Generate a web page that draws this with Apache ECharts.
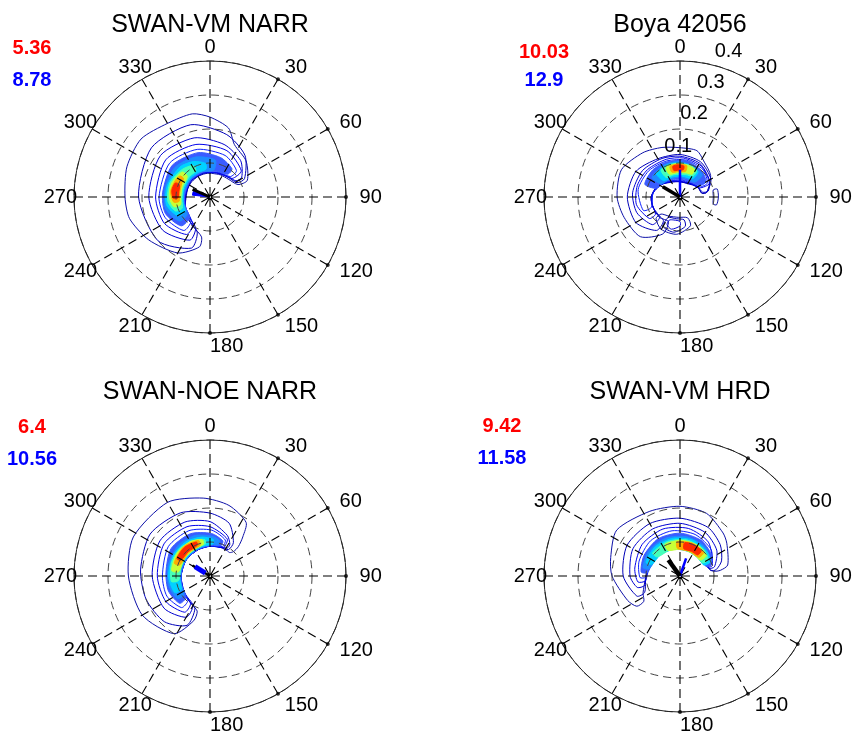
<!DOCTYPE html>
<html>
<head>
<meta charset="utf-8">
<script src="https://cdn.jsdelivr.net/npm/echarts@6/dist/echarts.min.js"></script>
<style>
  html, body { margin: 0; padding: 0; background: #ffffff; }
  #chart { width: 853px; height: 732px; }
</style>
</head>
<body>
<div id="chart"></div>
<script>
// ---- data -------------------------------------------------------------
const panelTitles = ['SWAN-VM NARR', 'Boya 42056', 'SWAN-NOE NARR', 'SWAN-VM HRD'];
const redValues = ['5.36', '10.03', '6.4', '9.42'];
const blueValues = ['8.78', '12.9', '10.56', '11.58'];
const directionTicks = [0, 30, 60, 90, 120, 150, 180, 210, 240, 270, 300, 330];
const frequencyTicks = [0.1, 0.2, 0.3, 0.4];

// vectors drawn from the centre: [length (Hz), direction (deg)]
const blackVectors = [[0.056, 294], [0.059, 301], [0.060, 301], [0.058, 324]];
const blueVectors = [[0.052, 282], [0.080, 0], [0.052, 302], [0.055, 19]];

// contour levels: [levelIndex, [[direction, innerFreq, outerFreq], ...]]
const contoursVmNarr = [
  [0, [[192,0.12,0.15],[210,0.10,0.19],[235,0.085,0.22],[255,0.075,0.245],[270,0.07,0.25],[290,0.07,0.26],[310,0.07,0.265],[330,0.07,0.25],[348,0.07,0.25],[360,0.07,0.235],[375,0.07,0.21],[385,0.072,0.17],[405,0.075,0.15],[426,0.09,0.12]]],
  [1, [[200,0.11,0.16],[230,0.09,0.20],[270,0.072,0.21],[310,0.072,0.225],[345,0.072,0.22],[375,0.073,0.19],[400,0.078,0.16],[422,0.09,0.115]]],
  [2, [[205,0.10,0.14],[235,0.085,0.17],[270,0.073,0.18],[310,0.073,0.19],[345,0.073,0.18],[375,0.074,0.16],[400,0.08,0.14],[418,0.09,0.11]]],
  [3, [[212,0.095,0.13],[240,0.08,0.155],[270,0.074,0.16],[310,0.074,0.17],[345,0.074,0.16],[380,0.075,0.145],[410,0.085,0.12]]],
  [4, [[218,0.09,0.125],[245,0.078,0.145],[270,0.075,0.15],[310,0.075,0.155],[345,0.075,0.145],[380,0.077,0.13],[405,0.085,0.11]]],
  [5, [[225,0.085,0.12],[250,0.078,0.14],[275,0.075,0.14],[310,0.075,0.145],[345,0.076,0.135],[375,0.078,0.12],[398,0.085,0.105]]],
  [6, [[232,0.085,0.115],[255,0.08,0.135],[280,0.077,0.135],[310,0.077,0.135],[340,0.078,0.125],[368,0.08,0.11]]],
  [7, [[240,0.085,0.11],[260,0.08,0.13],[285,0.08,0.13],[315,0.08,0.125],[335,0.08,0.115],[352,0.083,0.1]]],
  [8, [[248,0.088,0.11],[265,0.083,0.125],[290,0.083,0.125],[315,0.085,0.115],[332,0.088,0.105]]],
  [9, [[255,0.09,0.11],[270,0.086,0.12],[290,0.087,0.12],[312,0.09,0.11]]],
  [10, [[262,0.092,0.108],[278,0.09,0.117],[295,0.092,0.113],[305,0.095,0.108]]],
  [11, [[268,0.095,0.108],[280,0.093,0.114],[292,0.097,0.11]]]
];

const contoursBuoy = [
  [0, [[205,0.08,0.12],[225,0.085,0.165],[250,0.085,0.175],[270,0.085,0.185],[295,0.075,0.19],[320,0.06,0.17],[340,0.05,0.155],[360,0.045,0.145],[380,0.045,0.145],[395,0.05,0.125],[415,0.06,0.11],[440,0.065,0.08]]],
  [1, [[215,0.085,0.12],[240,0.085,0.15],[270,0.085,0.155],[300,0.07,0.15],[330,0.05,0.13],[360,0.045,0.125],[390,0.045,0.12],[420,0.06,0.105],[440,0.065,0.08]]],
  [2, [[225,0.085,0.115],[250,0.085,0.135],[275,0.082,0.14],[305,0.065,0.135],[335,0.05,0.125],[360,0.045,0.12],[390,0.047,0.115],[420,0.06,0.1],[438,0.068,0.085]]],
  [3, [[235,0.088,0.11],[260,0.085,0.13],[285,0.078,0.13],[310,0.062,0.125],[340,0.05,0.118],[365,0.047,0.115],[395,0.05,0.11],[425,0.063,0.095]]],
  [4, [[250,0.09,0.115],[280,0.08,0.125],[310,0.063,0.12],[340,0.052,0.113],[370,0.05,0.11],[400,0.053,0.105],[423,0.065,0.09]]],
  [5, [[290,0.075,0.11],[315,0.063,0.113],[340,0.055,0.11],[370,0.052,0.108],[400,0.055,0.1],[420,0.067,0.088]]],
  [6, [[305,0.068,0.1],[330,0.06,0.105],[355,0.058,0.105],[380,0.057,0.1],[405,0.062,0.093]]],
  [7, [[315,0.068,0.098],[340,0.063,0.102],[365,0.062,0.1],[395,0.066,0.092]]],
  [8, [[325,0.07,0.097],[345,0.068,0.1],[375,0.068,0.098],[392,0.072,0.092]]],
  [9, [[335,0.074,0.096],[355,0.072,0.099],[375,0.073,0.096],[388,0.076,0.092]]],
  [10, [[342,0.077,0.095],[357,0.075,0.097],[372,0.077,0.094]]],
  [11, [[347,0.08,0.093],[357,0.079,0.095],[367,0.081,0.092]]],
  [0, [[160,0.065,0.09],[185,0.06,0.11],[210,0.065,0.11],[228,0.075,0.095]]],
  [1, [[170,0.068,0.088],[190,0.065,0.105],[210,0.07,0.1]]],
  [2, [[180,0.072,0.085],[195,0.07,0.098],[205,0.075,0.09]]],
  [0, [[78,0.1,0.112],[90,0.098,0.113],[102,0.1,0.11]]]
];

const contoursNoeNarr = [
  [0, [[200,0.11,0.14],[212,0.10,0.2],[240,0.09,0.23],[270,0.085,0.24],[297,0.085,0.253],[330,0.085,0.25],[355,0.088,0.23],[375,0.09,0.215],[394,0.09,0.19],[400,0.09,0.15],[404,0.1,0.12]]],
  [1, [[205,0.105,0.16],[225,0.095,0.19],[250,0.088,0.2],[275,0.085,0.205],[305,0.085,0.215],[335,0.085,0.205],[360,0.088,0.185],[380,0.09,0.165],[395,0.095,0.12]]],
  [2, [[210,0.1,0.14],[235,0.09,0.165],[270,0.085,0.17],[305,0.085,0.18],[335,0.085,0.175],[360,0.088,0.16],[383,0.092,0.13],[392,0.097,0.11]]],
  [3, [[215,0.1,0.13],[240,0.09,0.15],[270,0.085,0.155],[305,0.085,0.165],[335,0.085,0.16],[360,0.088,0.145],[385,0.093,0.12]]],
  [4, [[222,0.097,0.125],[245,0.088,0.14],[270,0.085,0.14],[305,0.085,0.15],[335,0.085,0.147],[362,0.088,0.135],[383,0.095,0.115]]],
  [5, [[228,0.095,0.12],[250,0.088,0.13],[275,0.085,0.13],[305,0.085,0.14],[335,0.086,0.137],[362,0.09,0.125],[380,0.095,0.11]]],
  [6, [[235,0.093,0.117],[258,0.088,0.125],[285,0.086,0.127],[315,0.086,0.13],[340,0.088,0.127],[363,0.092,0.117],[375,0.096,0.108]]],
  [7, [[245,0.093,0.115],[270,0.09,0.122],[300,0.088,0.124],[325,0.088,0.123],[348,0.09,0.117],[365,0.095,0.108]]],
  [8, [[262,0.093,0.115],[290,0.09,0.12],[315,0.09,0.12],[340,0.092,0.113],[352,0.095,0.108]]],
  [9, [[278,0.093,0.114],[305,0.091,0.118],[330,0.091,0.117],[348,0.095,0.109]]],
  [10, [[290,0.095,0.112],[318,0.093,0.116],[342,0.095,0.11]]],
  [11, [[298,0.098,0.11],[318,0.096,0.113],[338,0.098,0.108]]]
];

const contoursVmHrd = [
  [0, [[235,0.13,0.155],[245,0.12,0.17],[270,0.1,0.2],[285,0.095,0.211],[306,0.09,0.23],[335,0.085,0.21],[360,0.08,0.205],[383,0.08,0.2],[405,0.08,0.179],[415,0.082,0.168],[437,0.09,0.144],[442,0.1,0.12]]],
  [1, [[245,0.115,0.14],[270,0.1,0.167],[300,0.092,0.18],[330,0.086,0.178],[360,0.08,0.17],[390,0.078,0.165],[412,0.08,0.15],[430,0.085,0.13],[440,0.092,0.108]]],
  [2, [[255,0.108,0.13],[270,0.1,0.147],[300,0.092,0.16],[330,0.086,0.16],[360,0.08,0.155],[390,0.078,0.148],[415,0.08,0.132],[435,0.088,0.105]]],
  [3, [[262,0.102,0.125],[280,0.096,0.135],[310,0.088,0.145],[340,0.083,0.147],[370,0.08,0.142],[400,0.078,0.13],[432,0.085,0.1]]],
  [4, [[268,0.1,0.118],[290,0.093,0.128],[320,0.086,0.135],[350,0.082,0.135],[380,0.079,0.13],[410,0.078,0.12],[430,0.083,0.098]]],
  [5, [[276,0.096,0.115],[300,0.09,0.122],[330,0.085,0.127],[360,0.08,0.126],[390,0.077,0.122],[415,0.077,0.112],[430,0.082,0.096]]],
  [6, [[283,0.093,0.112],[310,0.087,0.118],[340,0.082,0.119],[370,0.078,0.117],[400,0.076,0.113],[425,0.078,0.1]]],
  [7, [[292,0.09,0.108],[320,0.085,0.113],[350,0.08,0.113],[380,0.076,0.112],[408,0.075,0.107],[425,0.077,0.097]]],
  [8, [[310,0.087,0.105],[340,0.082,0.108],[370,0.078,0.108],[400,0.075,0.105],[420,0.077,0.096]]],
  [9, [[335,0.083,0.103],[362,0.079,0.105],[390,0.076,0.104],[412,0.076,0.098]]],
  [10, [[355,0.081,0.101],[380,0.078,0.103],[405,0.078,0.098]]],
  [11, [[368,0.081,0.099],[385,0.08,0.101],[400,0.081,0.097]]]
];

const panelContours = [contoursVmNarr, contoursBuoy, contoursNoeNarr, contoursVmHrd];

// ---- layout & style ---------------------------------------------------
const FONT = '"Liberation Sans", Arial, Helvetica, sans-serif';
const centers = [[210, 197], [680, 197], [210, 576], [680, 576]];
const plotRadius = 136;
const titleTops = [13, 13, 380, 380];
const valueX = [32, 544, 32, 502];
const redTops = [38, 42, 417, 416];
const blueTops = [70, 70, 449, 448];
const levelColors = ['#0c10a8', '#0000b8', '#0000d0', '#0000ea', '#0a1eff', '#3a5cff',
                     '#1e8cff', '#00d2ff', '#46ffb9', '#c8ff37', '#ffaa00', '#ff2800'];
const FILL_FROM = 5;
const blueStyle = [{ wedge: 6 }, { width: 2.5 }, { width: 5, from: 0.016, onTop: true }, { width: 2.5 }];
const blackWidths = [3, 3.5, 2.5, 4.5];
// frequency label anchors (direction) for the buoy panel
const freqLabelDirs = [-2, 9.5, 15, 18.5];

function contourRenderer(list) {
  return function (params, api) {
    const item = list[params.dataIndex];
    const lvl = item[0], s = item[1];
    const pts = [];
    for (let i = 0; i < s.length; i++) pts.push(api.coord([s[i][2], s[i][0]]));
    for (let i = s.length - 1; i >= 0; i--) pts.push(api.coord([s[i][1], s[i][0]]));
    const filled = lvl >= FILL_FROM;
    return {
      type: 'polygon',
      shape: { points: pts, smooth: 0.25 },
      style: { fill: filled ? levelColors[lvl] : 'none', stroke: levelColors[lvl], lineWidth: 1 }
    };
  };
}

function vectorRenderer(p) {
  return function (params, api) {
    const kind = api.value(2);
    const len = api.value(0), dir = api.value(1);
    if (kind === 1) {
      const a = api.coord([0, dir]), b = api.coord([len, dir]);
      return { type: 'line', shape: { x1: a[0], y1: a[1], x2: b[0], y2: b[1] },
               style: { stroke: '#000', lineWidth: blackWidths[p] } };
    }
    const st = blueStyle[p];
    if (st.wedge) {
      const pts = [api.coord([0, dir]), api.coord([len, dir - st.wedge]), api.coord([len, dir + st.wedge])];
      return { type: 'polygon', shape: { points: pts }, style: { fill: '#0000ff', stroke: '#0000ff', lineWidth: 1 } };
    }
    const a = api.coord([st.from || 0, dir]), b = api.coord([len, dir]);
    return { type: 'line', shape: { x1: a[0], y1: a[1], x2: b[0], y2: b[1] },
             style: { stroke: '#0000ff', lineWidth: st.width } };
  };
}

const option = {
  backgroundColor: '#ffffff',
  animation: false,
  title: [],
  polar: [],
  angleAxis: [],
  radiusAxis: [],
  series: []
};

for (let p = 0; p < 4; p++) {
  option.title.push({
    text: panelTitles[p], left: centers[p][0], top: titleTops[p], textAlign: 'center', padding: 0,
    textStyle: { fontFamily: FONT, fontSize: 25, fontWeight: 'normal', color: '#000', lineHeight: 25 }
  });
  option.title.push({
    text: redValues[p], left: valueX[p], top: redTops[p], textAlign: 'center', padding: 0,
    textStyle: { fontFamily: FONT, fontSize: 20, fontWeight: 'bold', color: '#ff0000', lineHeight: 20 }
  });
  option.title.push({
    text: blueValues[p], left: valueX[p], top: blueTops[p], textAlign: 'center', padding: 0,
    textStyle: { fontFamily: FONT, fontSize: 20, fontWeight: 'bold', color: '#0000ff', lineHeight: 20 }
  });

  option.polar.push({ center: centers[p], radius: plotRadius });
  option.angleAxis.push({
    polarIndex: p, type: 'value', min: 0, max: 360, interval: 30,
    startAngle: 90, clockwise: true, z: 3,
    axisLine: { show: true, lineStyle: { color: '#222', width: 1 } },
    axisTick: { show: false }, axisLabel: { show: false },
    splitLine: { show: true, lineStyle: { color: '#000', width: 1.1, type: [9, 5] } }
  });
  option.radiusAxis.push({
    polarIndex: p, type: 'value', min: 0, max: 0.4, interval: 0.1, z: 3,
    axisLine: { show: false }, axisTick: { show: false }, axisLabel: { show: false },
    splitLine: { show: true, lineStyle: { color: '#444', width: 1, type: [8, 5] } }
  });

  const list = panelContours[p];
  option.series.push({
    type: 'custom', coordinateSystem: 'polar', polarIndex: p, z: 1, silent: true,
    renderItem: contourRenderer(list),
    data: list.map((c, k) => [c[1][0][2], c[1][0][0], k])
  });

  const vecData = blueStyle[p].onTop
    ? [[blackVectors[p][0], blackVectors[p][1], 1], [blueVectors[p][0], blueVectors[p][1], 0]]
    : [[blueVectors[p][0], blueVectors[p][1], 0], [blackVectors[p][0], blackVectors[p][1], 1]];
  option.series.push({
    type: 'custom', coordinateSystem: 'polar', polarIndex: p, z: 5, silent: true,
    renderItem: vectorRenderer(p), data: vecData
  });

  option.series.push({
    type: 'scatter', coordinateSystem: 'polar', polarIndex: p, z: 5, silent: true,
    symbolSize: 4, itemStyle: { color: '#000' },
    data: directionTicks.filter(a => a >= 30 && a <= 180).map(a => [0.4, a])
  });

  option.series.push({
    type: 'custom', coordinateSystem: 'polar', polarIndex: p, z: 5, silent: true,
    data: directionTicks.map(a => [0.44, a]),
    renderItem: function (params, api) {
      const a = api.value(1);
      const pt = api.coord([api.value(0), a]);
      return {
        type: 'text', x: pt[0], y: pt[1],
        style: { text: String(a), align: (a >= 30 && a <= 180) ? 'left' : 'center',
                 verticalAlign: 'middle', fontFamily: FONT, fontSize: 20, fill: '#000' }
      };
    }
  });

  if (p === 1) {
    option.series.push({
      type: 'custom', coordinateSystem: 'polar', polarIndex: p, z: 4, silent: true,
      data: frequencyTicks.map((f, i) => [f + 0.05, freqLabelDirs[i], f]),
      renderItem: function (params, api) {
        const pt = api.coord([api.value(0), api.value(1)]);
        return {
          type: 'text', x: pt[0], y: pt[1],
          style: { text: String(api.value(2)), align: 'center', verticalAlign: 'middle',
                   fontFamily: FONT, fontSize: 20, fill: '#000' }
        };
      }
    });
  }
}

const chart = echarts.init(document.getElementById('chart'), null, { renderer: 'canvas' });
chart.setOption(option);
</script>
</body>
</html>
